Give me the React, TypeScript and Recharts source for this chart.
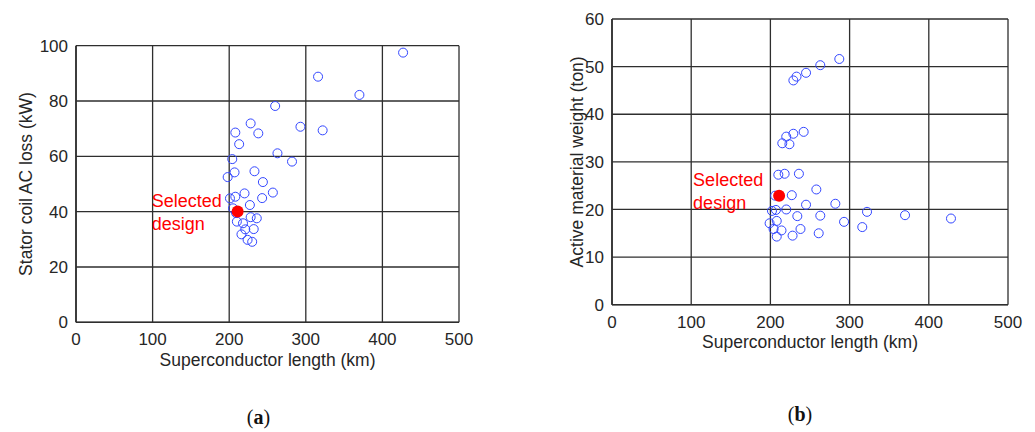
import React from "react";
import { ScatterChart, Scatter, XAxis, YAxis, CartesianGrid } from "recharts";

// (a) superconductor length (km) vs stator coil AC loss (kW)
const lossKm = [
  427, 316, 370, 260, 228, 293, 322, 208, 238, 213, 263, 204, 282, 207, 233, 198, 244,
  257, 220, 208, 201, 243, 227, 205, 209, 228, 236, 210, 218, 232, 221, 216, 224, 230,
];
const lossKw = [
  97.5, 88.8, 82.2, 78.2, 71.9, 70.7, 69.4, 68.6, 68.3, 64.4, 61.1, 59.0, 58.1, 54.2, 54.6, 52.5, 50.7,
  46.9, 46.6, 45.4, 44.8, 44.9, 42.4, 41.2, 39.5, 38.0, 37.6, 36.4, 35.8, 33.7, 33.6, 31.8, 29.8, 29.1,
];

// (b) superconductor length (km) vs active material weight (ton)
const weightKm = [
  287, 263, 245, 233, 229, 242, 229, 220, 215, 224, 210, 218, 236, 258, 206, 227, 245, 282,
  322, 202, 207, 220, 234, 263, 199, 208, 293, 316, 204, 214, 238, 208, 228, 261, 370, 428,
];
const weightTon = [
  51.6, 50.3, 48.7, 47.9, 47.1, 36.3, 35.9, 35.3, 33.9, 33.7, 27.3, 27.5, 27.5, 24.2, 22.9, 23.0, 21.0, 21.2,
  19.5, 19.7, 19.9, 20.0, 18.6, 18.7, 17.1, 17.6, 17.4, 16.3, 15.9, 15.6, 15.9, 14.3, 14.5, 15.0, 18.8, 18.1,
];

const selectedLoss = { x: 211, y: 40.1 };
const selectedWeight = { x: 211, y: 22.9 };

const xTicks = [0, 100, 200, 300, 400, 500];
const lossTicks = [0, 20, 40, 60, 80, 100];
const weightTicks = [0, 10, 20, 30, 40, 50, 60];

const FONT = "'Liberation Sans', Arial, sans-serif";
const INK = "#262626";
const GRID = "#2e2e2e";

const toPoints = (xs: number[], ys: number[]) => xs.map((x, i) => ({ x, y: ys[i] }));

const OpenCircle = (p: any) => (
  <circle cx={p.cx} cy={p.cy} r={4.5} fill="none" stroke="#3347ff" strokeWidth={1} />
);

const selectedShape = (up: number, down: number) => (p: any) => (
  <g>
    <circle cx={p.cx} cy={p.cy} r={6} fill="#ff0000" />
    <text x={p.cx - 86} y={p.cy - up} fill="#ff0000" fontSize={18} fontFamily={FONT}>
      Selected
    </text>
    <text x={p.cx - 86} y={p.cy + down} fill="#ff0000" fontSize={18} fontFamily={FONT}>
      design
    </text>
  </g>
);

const yLabel = (text: string, gap: number) => (props: any) => {
  const vb = props.viewBox;
  const x = vb.x + vb.width - gap;
  const y = vb.y + vb.height / 2;
  return (
    <text
      x={x}
      y={y}
      transform={`rotate(-90 ${x} ${y})`}
      textAnchor="middle"
      dominantBaseline="central"
      fill={INK}
      fontSize={17.5}
      fontFamily={FONT}
    >
      {text}
    </text>
  );
};

const xLabel = (props: any) => {
  const vb = props.viewBox;
  return (
    <text
      x={vb.x + vb.width / 2}
      y={vb.y + 43.5}
      textAnchor="middle"
      fill={INK}
      fontSize={17.5}
      fontFamily={FONT}
    >
      Superconductor length (km)
    </text>
  );
};

const tickStyle = { fill: INK, fontSize: 17, fontFamily: FONT };

function Panel(props: {
  width: number;
  margin: any;
  yTicks: number[];
  yMax: number;
  yTitle: string;
  yGap: number;
  points: { x: number; y: number }[];
  selected: { x: number; y: number };
  up: number;
  down: number;
}) {
  return (
    <ScatterChart width={props.width} height={432} margin={props.margin}>
      <CartesianGrid stroke={GRID} strokeWidth={1.3} />
      <XAxis
        type="number"
        dataKey="x"
        domain={[0, 500]}
        ticks={xTicks}
        height={30}
        tickLine={false}
        tickSize={6}
        tickMargin={5}
        axisLine={{ stroke: GRID, strokeWidth: 1.6 }}
        tick={tickStyle}
        label={xLabel}
      />
      <YAxis
        type="number"
        dataKey="y"
        domain={[0, props.yMax]}
        ticks={props.yTicks}
        width={50}
        tickLine={false}
        tickSize={6}
        tickMargin={2}
        axisLine={{ stroke: GRID, strokeWidth: 1.6 }}
        tick={tickStyle}
        label={yLabel(props.yTitle, props.yGap)}
      />
      <Scatter data={props.points} shape={OpenCircle} isAnimationActive={false} />
      <Scatter
        data={[props.selected]}
        shape={selectedShape(props.up, props.down)}
        isAnimationActive={false}
      />
    </ScatterChart>
  );
}

export default function App() {
  return (
    <div style={{ position: "absolute", left: 0, top: 0, width: 1035, height: 432, background: "#fff" }}>
      <div style={{ position: "absolute", left: 0, top: 0 }}>
        <Panel
          width={520}
          margin={{ top: 45.7, right: 61, bottom: 79.7, left: 26 }}
          yTicks={lossTicks}
          yMax={100}
          yTitle="Stator coil AC loss (kW)"
          yGap={50.5}
          points={toPoints(lossKm, lossKw)}
          selected={selectedLoss}
          up={4.6}
          down={19}
        />
      </div>
      <div style={{ position: "absolute", left: 520, top: 0 }}>
        <Panel
          width={515}
          margin={{ top: 19, right: 27, bottom: 97.3, left: 42 }}
          yTicks={weightTicks}
          yMax={60}
          yTitle="Active material weight (ton)"
          yGap={34.5}
          points={toPoints(weightKm, weightTon)}
          selected={selectedWeight}
          up={9.7}
          down={13.6}
        />
      </div>
      <svg
        width={1035}
        height={432}
        style={{ position: "absolute", left: 0, top: 0, pointerEvents: "none" }}
      >
        <text x={258.5} y={424} textAnchor="middle" fontSize={20} fontFamily="'Liberation Serif', serif" fill="#111">
          (<tspan fontWeight="bold">a</tspan>)
        </text>
        <text x={800} y={421} textAnchor="middle" fontSize={20} fontFamily="'Liberation Serif', serif" fill="#111">
          (<tspan fontWeight="bold">b</tspan>)
        </text>
      </svg>
    </div>
  );
}
